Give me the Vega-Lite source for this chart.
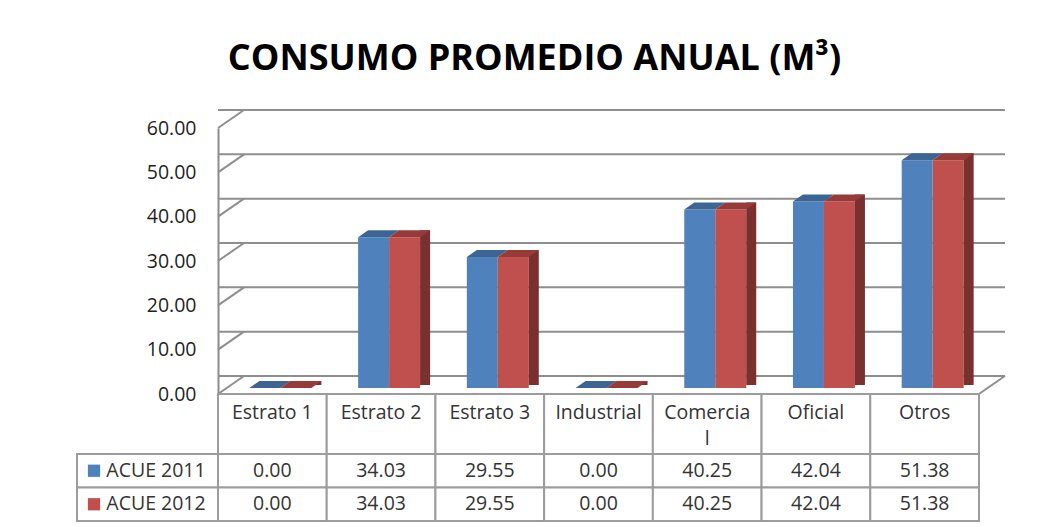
{
  "$schema": "https://vega.github.io/schema/vega-lite/v6.json",
  "padding": {"left": 76, "top": 41, "right": 5, "bottom": 5},
  "background": "white",
  "title": {"text": "CONSUMO PROMEDIO ANUAL (M³)", "font": "Open Sans", "fontSize": 36, "fontWeight": "bold", "color": "#000000", "anchor": "middle", "offset": 28, "dx": -8},
  "config": {"view": {"stroke": null}, "font": "Open Sans"},
  "datasets": {
    "consumo": [
      {"categoria": "Estrato 1", "serie": "ACUE 2011", "valor": 0.00},
      {"categoria": "Estrato 1", "serie": "ACUE 2012", "valor": 0.00},
      {"categoria": "Estrato 2", "serie": "ACUE 2011", "valor": 34.03},
      {"categoria": "Estrato 2", "serie": "ACUE 2012", "valor": 34.03},
      {"categoria": "Estrato 3", "serie": "ACUE 2011", "valor": 29.55},
      {"categoria": "Estrato 3", "serie": "ACUE 2012", "valor": 29.55},
      {"categoria": "Industrial", "serie": "ACUE 2011", "valor": 0.00},
      {"categoria": "Industrial", "serie": "ACUE 2012", "valor": 0.00},
      {"categoria": "Comercial", "serie": "ACUE 2011", "valor": 40.25},
      {"categoria": "Comercial", "serie": "ACUE 2012", "valor": 40.25},
      {"categoria": "Oficial", "serie": "ACUE 2011", "valor": 42.04},
      {"categoria": "Oficial", "serie": "ACUE 2012", "valor": 42.04},
      {"categoria": "Otros", "serie": "ACUE 2011", "valor": 51.38},
      {"categoria": "Otros", "serie": "ACUE 2012", "valor": 51.38}
    ],
    "ticks": [{"v": 0}, {"v": 10}, {"v": 20}, {"v": 30}, {"v": 40}, {"v": 50}, {"v": 60}],
    "cats": [
      {"categoria": "Estrato 1", "etiqueta": "Estrato 1"},
      {"categoria": "Estrato 2", "etiqueta": "Estrato 2"},
      {"categoria": "Estrato 3", "etiqueta": "Estrato 3"},
      {"categoria": "Industrial", "etiqueta": "Industrial"},
      {"categoria": "Comercial", "etiqueta": "Comercia\nl"},
      {"categoria": "Oficial", "etiqueta": "Oficial"},
      {"categoria": "Otros", "etiqueta": "Otros"}
    ],
    "series": [{"serie": "ACUE 2011"}, {"serie": "ACUE 2012"}]
  },
  "bounds": "flush",
  "align": "each",
  "columns": 2,
  "spacing": 0,
  "concat": [
    {
      "width": 141, "height": 266,
      "data": {"name": "ticks"},
      "mark": {"type": "point", "opacity": 0},
      "encoding": {
        "y": {"field": "v", "type": "quantitative", "scale": {"domain": [0, 60], "nice": false},
          "axis": {"orient": "right", "values": [0, 10, 20, 30, 40, 50, 60], "format": ".2f", "title": null, "ticks": false, "grid": false, "labelAlign": "right", "labelBaseline": "middle", "labelPadding": -22, "labelFontSize": 19.5, "labelColor": "#1f1f1f", "labelFont": "Open Sans", "labelFlush": false, "labelOverlap": false, "domainColor": "#8c8c8c", "domainWidth": 2, "minExtent": 0, "maxExtent": 0}}
      }
    },
    {
      "width": 761, "height": 266,
      "layer": [
        {
          "data": {"name": "ticks"},
          "mark": {"type": "rule", "color": "#8e8e8e", "strokeWidth": 2, "xOffset": 26, "yOffset": -18},
          "encoding": {"y": {"field": "v", "type": "quantitative", "scale": {"domain": [0, 60], "nice": false}, "axis": null}}
        },
        {
          "data": {"name": "ticks"},
          "mark": {"type": "point", "shape": "M0,0L26,-18", "size": 4, "filled": false, "stroke": "#8e8e8e", "strokeWidth": 2, "opacity": 1, "xOffset": -31.4},
          "encoding": {
            "x": {"datum": "Estrato 1", "type": "nominal", "bandPosition": 0, "scale": {"domain": ["Estrato 1", "Estrato 2", "Estrato 3", "Industrial", "Comercial", "Oficial", "Otros"], "paddingInner": 0.43, "paddingOuter": 0.215, "align": 0.6717}, "axis": null},
            "y": {"field": "v", "type": "quantitative"}
          }
        },
        {
          "data": {"name": "ticks"},
          "transform": [{"filter": "datum.v == 0"}],
          "mark": {"type": "point", "shape": "M0,0L26,-18", "size": 4, "filled": false, "stroke": "#8e8e8e", "strokeWidth": 2, "opacity": 1, "xOffset": 15.3},
          "encoding": {
            "x": {"datum": "Otros", "type": "nominal", "bandPosition": 1},
            "y": {"field": "v", "type": "quantitative"}
          }
        },
        {
          "data": {"name": "consumo"},
          "mark": {"type": "bar", "yOffset": -6, "y2Offset": -6},
          "encoding": {
            "x": {"field": "categoria", "type": "nominal"},
            "xOffset": {"field": "serie", "type": "nominal", "scale": {"paddingInner": 0, "paddingOuter": 0}},
            "y": {"field": "valor", "type": "quantitative"},
            "color": {"field": "serie", "type": "nominal", "scale": {"domain": ["ACUE 2011", "ACUE 2012"], "range": ["#4f81bd", "#c0504d"]}, "legend": null}
          }
        },
        {
          "data": {"name": "consumo"},
          "transform": [{"filter": "datum.serie == 'ACUE 2012'"}],
          "mark": {"type": "rule", "strokeWidth": 10, "strokeCap": "butt", "yOffset": -13, "y2Offset": -9, "color": "#7a302e"},
          "encoding": {
            "x": {"field": "categoria", "type": "nominal", "bandPosition": 1.0807},
            "y": {"field": "valor", "type": "quantitative"},
            "y2": {"datum": 0}
          }
        },
        {
          "data": {"name": "consumo"},
          "mark": {"type": "point", "shape": "M-15.5,0L15.5,0L25.5,-7L-5.5,-7Z", "size": 4, "filled": true, "opacity": 1, "yOffset": -6, "strokeWidth": 0},
          "encoding": {
            "x": {"field": "categoria", "type": "nominal"},
            "xOffset": {"field": "serie", "type": "nominal"},
            "y": {"field": "valor", "type": "quantitative"},
            "fill": {"field": "serie", "type": "nominal", "scale": {"domain": ["ACUE 2011", "ACUE 2012"], "range": ["#3c6593", "#963b39"]}, "legend": null}
          }
        }
      ]
    },
    {
      "width": 141, "height": 60,
      "data": {"values": []},
      "mark": {"type": "point", "opacity": 0}
    },
    {
      "width": 761, "height": 60,
      "data": {"name": "cats"},
      "encoding": {"x": {"field": "categoria", "type": "nominal", "scale": {"domain": ["Estrato 1", "Estrato 2", "Estrato 3", "Industrial", "Comercial", "Oficial", "Otros"], "paddingInner": 0, "paddingOuter": 0}, "axis": null}},
      "layer": [
        {"mark": {"type": "rect", "fill": "white", "stroke": "#9c9c9c", "strokeWidth": 2}},
        {"mark": {"type": "text", "baseline": "top", "dy": -20, "fontSize": 19.5, "color": "#333333", "lineBreak": "\n", "lineHeight": 26}, "encoding": {"text": {"field": "etiqueta"}}}
      ]
    },
    {
      "width": 141, "height": 67,
      "data": {"name": "series"},
      "encoding": {"y": {"field": "serie", "type": "nominal", "scale": {"paddingInner": 0, "paddingOuter": 0}, "axis": null}},
      "layer": [
        {"mark": {"type": "rect", "fill": "white", "stroke": "#9c9c9c", "strokeWidth": 2}},
        {"mark": {"type": "point", "shape": "square", "size": 150, "filled": true, "opacity": 1, "xOffset": -53.5},
         "encoding": {"color": {"field": "serie", "type": "nominal", "scale": {"domain": ["ACUE 2011", "ACUE 2012"], "range": ["#4f81bd", "#c0504d"]}, "legend": null}}},
        {"mark": {"type": "text", "fontSize": 19.5, "color": "#333333", "dx": 8.5}, "encoding": {"text": {"field": "serie"}}}
      ]
    },
    {
      "width": 761, "height": 67,
      "data": {"name": "consumo"},
      "encoding": {
        "x": {"field": "categoria", "type": "nominal", "scale": {"domain": ["Estrato 1", "Estrato 2", "Estrato 3", "Industrial", "Comercial", "Oficial", "Otros"], "paddingInner": 0, "paddingOuter": 0}, "axis": null},
        "y": {"field": "serie", "type": "nominal", "scale": {"paddingInner": 0, "paddingOuter": 0}, "axis": null}
      },
      "layer": [
        {"mark": {"type": "rect", "fill": "white", "stroke": "#9c9c9c", "strokeWidth": 2}},
        {"mark": {"type": "text", "fontSize": 19.5, "color": "#333333"}, "encoding": {"text": {"field": "valor", "type": "quantitative", "format": ".2f"}}}
      ]
    }
  ]
}
